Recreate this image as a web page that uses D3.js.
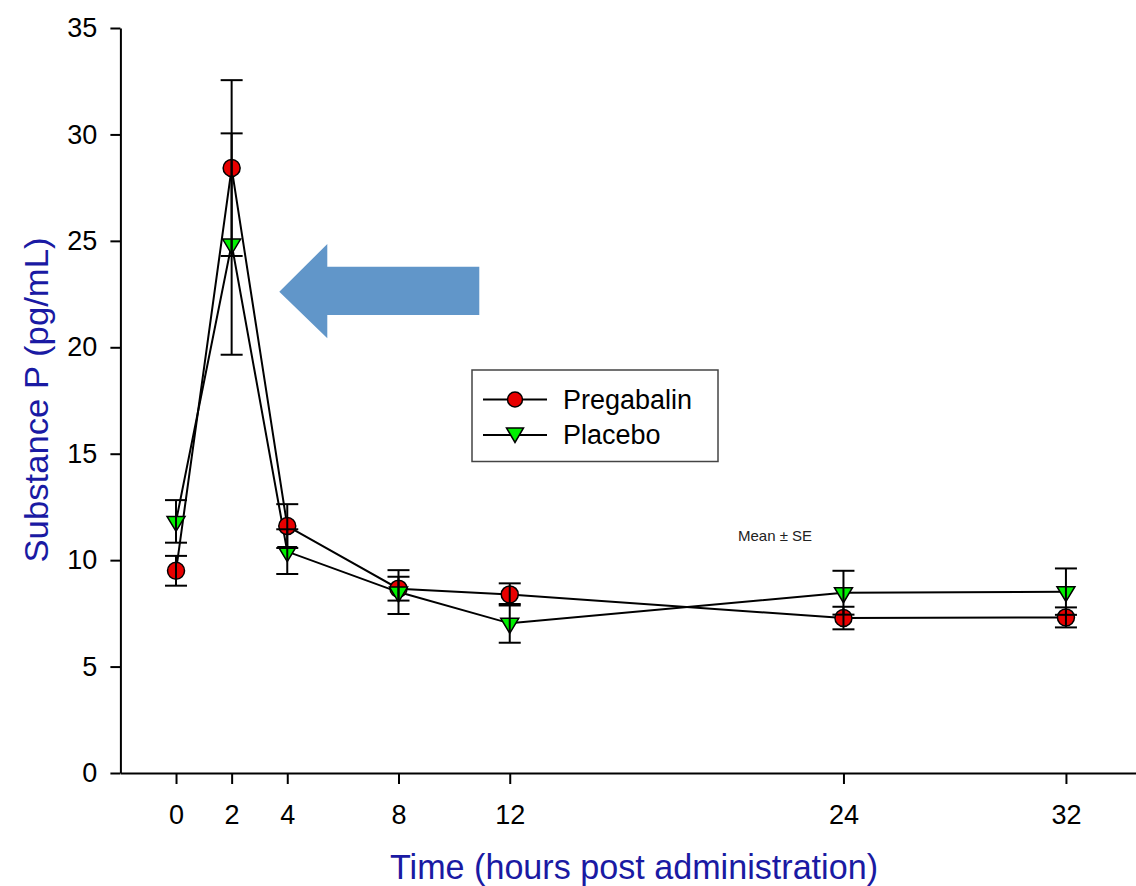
<!DOCTYPE html>
<html>
<head>
<meta charset="utf-8">
<script src="https://cdn.jsdelivr.net/npm/d3@7"></script>
<style>
  html, body { margin: 0; padding: 0; background: #fff; }
  svg { display: block; overflow: hidden; }
  text { font-family: "Liberation Sans", Arial, sans-serif; }
</style>
</head>
<body>
<svg id="chart" width="1136" height="886"></svg>
<script>
// ---- data ----
const times = [0, 2, 4, 8, 12, 24, 32];
const pregabalinMean = [9.5, 28.42, 11.6, 8.66, 8.39, 7.28, 7.31];
const pregabalinSE   = [0.7, 4.13, 1.03, 0.56, 0.52, 0.53, 0.47];
const placeboMean    = [11.82, 24.85, 10.4, 8.5, 7.03, 8.47, 8.52];
const placeboSE      = [1.0, 5.2, 1.05, 1.03, 0.91, 1.03, 1.09];
const yTickValues = [0, 5, 10, 15, 20, 25, 30, 35];
const xTickValues = [0, 2, 4, 8, 12, 24, 32];
const seriesNames = ["Pregabalin", "Placebo"];
const xTitle = "Time (hours post administration)";
const yTitle = "Substance P (pg/mL)";
const noteText = "Mean \u00b1 SE";

// ---- layout ----
const svg = d3.select("#chart");
const x = d3.scaleLinear().domain([-2, 35]).range([120.4, 120.4 + 37 * 27.81]);
const y = d3.scaleLinear().domain([0, 35]).range([773, 28]);

const red = "#e80000", green = "#00f000", titleBlue = "#1a1aa3";

// axes
const yAxis = d3.axisLeft(y).tickValues(yTickValues).tickSize(10).tickSizeOuter(0).tickPadding(13);
const gy = svg.append("g").attr("transform", `translate(${x(-2)},0)`).call(yAxis);
const xAxis = d3.axisBottom(x).tickValues(xTickValues).tickSize(11).tickSizeOuter(0).tickPadding(21);
const gx = svg.append("g").attr("transform", `translate(0,${y(0)})`).call(xAxis);
[gx, gy].forEach(g => {
  g.selectAll("path.domain").attr("stroke", "#000").attr("stroke-width", 2);
  g.selectAll(".tick line").attr("stroke", "#000").attr("stroke-width", 2);
  g.selectAll(".tick text").attr("fill", "#000").style("font-size", "27px")
    .style("font-family", '"Liberation Sans", Arial, sans-serif');
});

// axis titles
svg.append("text")
  .attr("transform", "translate(48,400) rotate(-90)")
  .attr("text-anchor", "middle")
  .attr("fill", titleBlue)
  .style("font-size", "33px")
  .attr("textLength", 325).attr("lengthAdjust", "spacingAndGlyphs")
  .text(yTitle);
svg.append("text")
  .attr("x", 634).attr("y", 879)
  .attr("text-anchor", "middle")
  .attr("fill", titleBlue)
  .style("font-size", "35px")
  .attr("textLength", 488).attr("lengthAdjust", "spacingAndGlyphs")
  .text(xTitle);

// series
const series = [
  { name: seriesNames[0], mean: pregabalinMean, se: pregabalinSE, fill: red, shape: "circle" },
  { name: seriesNames[1], mean: placeboMean, se: placeboSE, fill: green, shape: "tri" }
];
const line = d3.line().x(d => x(d.t)).y(d => y(d.v));
const triPath = "M-9,-5L9,-5L0,10Z";

series.forEach(s => {
  const pts = times.map((t, i) => ({ t, v: s.mean[i], se: s.se[i] }));
  svg.append("path").datum(pts).attr("d", line)
    .attr("fill", "none").attr("stroke", "#000").attr("stroke-width", 2);
  s.pts = pts;
});

series.forEach(s => {
  const g = svg.append("g");
  if (s.shape === "circle") {
    g.selectAll("circle").data(s.pts).join("circle")
      .attr("cx", d => x(d.t)).attr("cy", d => y(d.v)).attr("r", 8.5)
      .attr("fill", s.fill).attr("stroke", "#000").attr("stroke-width", 1.5);
  } else {
    g.selectAll("path").data(s.pts).join("path")
      .attr("d", triPath)
      .attr("transform", d => `translate(${x(d.t)},${y(d.v)})`)
      .attr("fill", s.fill).attr("stroke", "#000").attr("stroke-width", 1.5);
  }
});

// error bars
series.forEach(s => {
  const g = svg.append("g").attr("stroke", "#000").attr("stroke-width", 2);
  s.pts.forEach(d => {
    const cx = x(d.t), y1 = y(d.v + d.se), y2 = y(d.v - d.se);
    g.append("line").attr("x1", cx).attr("x2", cx).attr("y1", y1).attr("y2", y2);
    g.append("line").attr("x1", cx - 11).attr("x2", cx + 11).attr("y1", y1).attr("y2", y1);
    g.append("line").attr("x1", cx - 11).attr("x2", cx + 11).attr("y1", y2).attr("y2", y2);
  });
});

// legend
const lg = svg.append("g");
lg.append("rect").attr("x", 472).attr("y", 370).attr("width", 246).attr("height", 91.5)
  .attr("fill", "#fff").attr("stroke", "#444").attr("stroke-width", 1.5);
const rows = [399.5, 435];
series.forEach((s, i) => {
  const ry = rows[i];
  lg.append("line").attr("x1", 483).attr("x2", 547).attr("y1", ry).attr("y2", ry)
    .attr("stroke", "#000").attr("stroke-width", 2);
  if (s.shape === "circle") {
    lg.append("circle").attr("cx", 515).attr("cy", ry).attr("r", 7.5)
      .attr("fill", s.fill).attr("stroke", "#000").attr("stroke-width", 1.5);
  } else {
    lg.append("path").attr("d", "M-8.5,-6L8.5,-6L0,8.5Z").attr("transform", `translate(515,${ry - 1})`)
      .attr("fill", s.fill).attr("stroke", "#000").attr("stroke-width", 1.5);
  }
  lg.append("text").attr("x", 563).attr("y", ry).attr("dy", "0.35em")
    .attr("fill", "#000").style("font-size", "27px").text(s.name);
});

// note
svg.append("text").attr("x", 738).attr("y", 536).attr("dy", "0.35em")
  .attr("fill", "#222").style("font-size", "15px").text(noteText);

// annotation arrow
const arrowPts = [[279.3, 291.7], [327.3, 244], [327.3, 266.7], [479.3, 266.7], [479.3, 315], [327.3, 315], [327.3, 338.3]];
svg.append("path").attr("d", d3.line()(arrowPts) + "Z").attr("fill", "#6196c9");
</script>
</body>
</html>
